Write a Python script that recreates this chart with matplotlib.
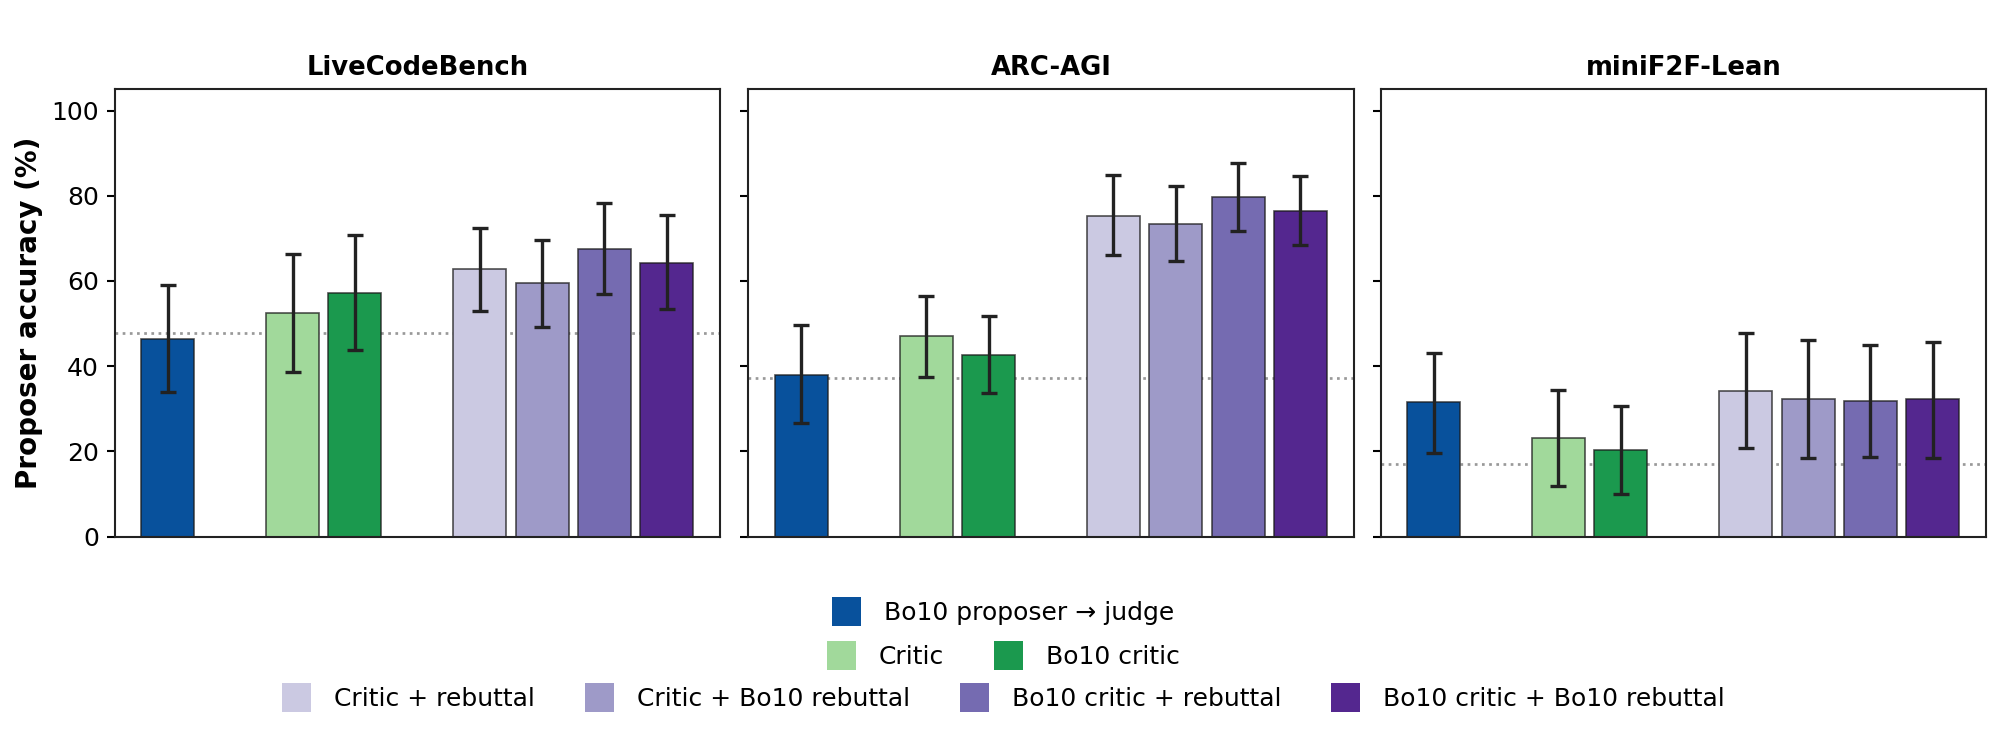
import matplotlib
matplotlib.use("Agg")
import matplotlib.pyplot as plt
from matplotlib.patches import Patch
import numpy as np

benchmarks = ["LiveCodeBench", "ARC-AGI", "miniF2F-Lean"]
methods = ["Bo10 proposer \u2192 judge", "Critic", "Bo10 critic",
           "Critic + rebuttal", "Critic + Bo10 rebuttal",
           "Bo10 critic + rebuttal", "Bo10 critic + Bo10 rebuttal"]
colors = ["#08519c", "#a1d99b", "#1b994e", "#cbc9e2", "#9e9ac8", "#756bb1", "#54278f"]

acc = {
    "LiveCodeBench": [46.4, 52.5, 57.2, 62.7, 59.6, 67.5, 64.3],
    "ARC-AGI":       [38.0, 47.0, 42.6, 75.3, 73.4, 79.7, 76.5],
    "miniF2F-Lean":  [31.5, 23.1, 20.3, 34.2, 32.3, 31.8, 32.2],
}
err_lo = {
    "LiveCodeBench": [33.9, 38.7, 43.9, 52.9, 49.3, 57.0, 53.4],
    "ARC-AGI":       [26.7, 37.5, 33.6, 66.0, 64.7, 71.7, 68.4],
    "miniF2F-Lean":  [19.6, 11.8, 10.1, 20.7, 18.5, 18.7, 18.5],
}
err_hi = {
    "LiveCodeBench": [59.0, 66.4, 70.7, 72.4, 69.6, 78.2, 75.5],
    "ARC-AGI":       [49.6, 56.5, 51.8, 84.9, 82.3, 87.8, 84.6],
    "miniF2F-Lean":  [43.2, 34.4, 30.6, 47.9, 46.2, 45.0, 45.7],
}
baseline = {"LiveCodeBench": 47.7, "ARC-AGI": 37.3, "miniF2F-Lean": 17.0}

positions = [0, 2, 3, 5, 6, 7, 8]
yticks = [0, 20, 40, 60, 80, 100]

plt.rcParams['font.family'] = ['DejaVu Sans']
fig = plt.figure(figsize=(1999/150, 738/150), dpi=150)

lefts = [0.0574, 0.3744, 0.6907]
width = 0.3027
bottom, top = 0.273, 0.879
axes = []
for i, b in enumerate(benchmarks):
    ax = fig.add_axes([lefts[i], bottom, width, top - bottom])
    axes.append(ax)
    vals = np.array(acc[b])
    lo = vals - np.array(err_lo[b])
    hi = np.array(err_hi[b]) - vals
    for j in range(len(methods)):
        ax.bar(positions[j], vals[j], width=0.85, color=colors[j],
               edgecolor=(0.1, 0.1, 0.1, 0.75), linewidth=0.8, zorder=2)
    ax.errorbar(positions, vals, yerr=[lo, hi], fmt="none", ecolor="#222222",
                elinewidth=1.6, capsize=4, capthick=1.6, zorder=3)
    ax.axhline(baseline[b], color="#999999", linestyle=":", linewidth=1.3, zorder=1)
    ax.set_xlim(-0.85, 8.85)
    ax.set_ylim(0, 105)
    ax.set_yticks(yticks)
    ax.set_xticks([])
    ax.set_title(b, fontsize=12.4, fontweight="bold", pad=7)
    ax.tick_params(axis="y", labelsize=12, length=4, width=1)
    for s in ax.spines.values():
        s.set_linewidth(1.0)
        s.set_color("#222222")
    if i == 0:
        ax.set_ylabel("Proposer accuracy (%)", fontsize=13.3, fontweight="bold",
                      labelpad=4)
    else:
        ax.set_yticklabels([])

handles = [Patch(facecolor=c, edgecolor="none") for c in colors]
common = dict(frameon=False, fontsize=12, handlelength=1.15, handleheight=1.42,
              handletextpad=0.92, columnspacing=2.0, loc="center")
leg1 = fig.legend(handles[0:1], methods[0:1], ncol=1,
                  bbox_to_anchor=(0.502, 0.171), **common)
leg2 = fig.legend(handles[1:3], methods[1:3], ncol=2,
                  bbox_to_anchor=(0.502, 0.112), **common)
leg3 = fig.legend(handles[3:7], methods[3:7], ncol=4,
                  bbox_to_anchor=(0.502, 0.055), **common)

fig.savefig("out.png", dpi=150)
